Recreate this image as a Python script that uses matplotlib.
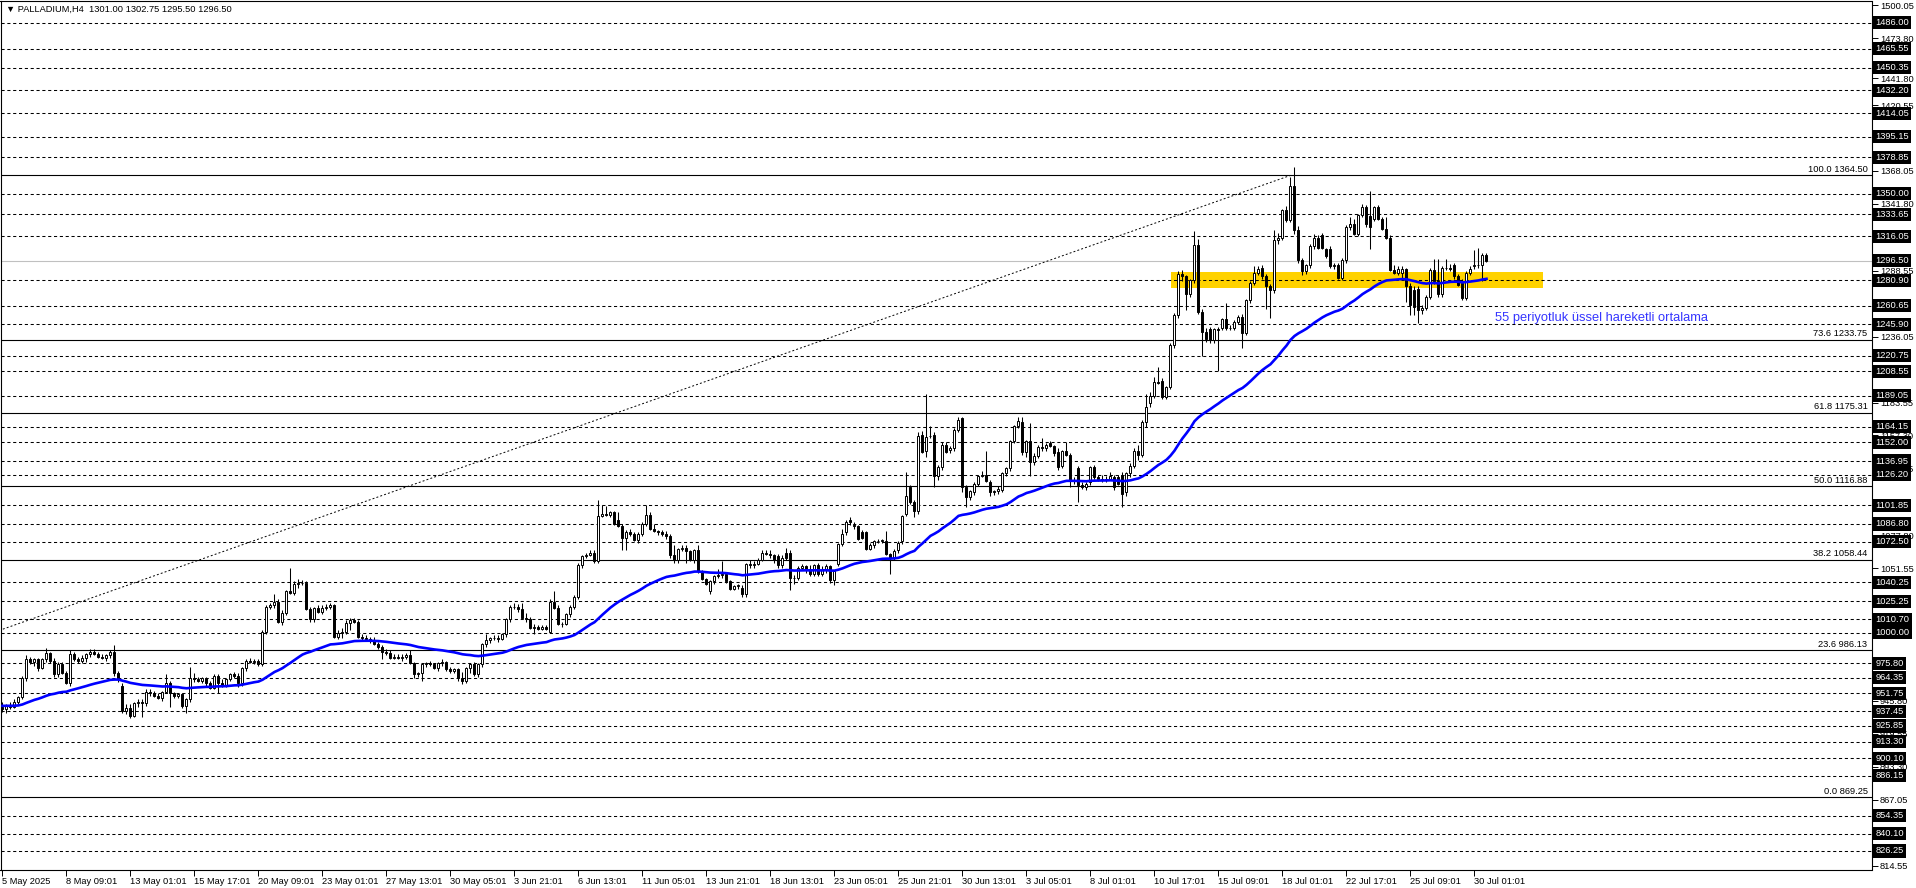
import matplotlib
matplotlib.use("Agg")
import matplotlib.pyplot as plt
import numpy as np

plt.rcParams['font.family'] = ['Liberation Sans', 'DejaVu Sans']

# ---- data (PALLADIUM H4) ----
opens = [
    941, 939, 942, 941, 945, 949, 964, 979, 977, 979, 972, 979, 984, 978, 967, 975,
    968, 960, 983, 979, 978, 980, 983, 985, 983, 981, 980, 982, 985, 968, 958, 938,
    940, 934, 944, 945, 944, 953, 952, 950, 948, 953, 960, 952, 950, 951, 942, 947,
    964, 963, 962, 964, 960, 956, 966, 960, 958, 963, 967, 966, 960, 972, 978, 977,
    978, 975, 1001, 1021, 1022, 1025, 1009, 1016, 1033, 1032, 1039, 1040, 1040, 1019, 1011, 1020,
    1017, 1020, 1021, 1022, 997, 1000, 1001, 1008, 1010, 1009, 997, 996, 995, 994, 991, 989,
    985, 984, 980, 981, 980, 981, 982, 976, 967, 968, 975, 976, 975, 972, 976, 977,
    971, 970, 971, 964, 962, 972, 975, 967, 975, 991, 994, 996, 996, 995, 999, 1011,
    1021, 1021, 1019, 1012, 1011, 1004, 1005, 1003, 1005, 1001, 1025, 1020, 1007, 1007, 1015, 1021,
    1029, 1054, 1061, 1062, 1064, 1057, 1093, 1095, 1094, 1096, 1090, 1085, 1076, 1080, 1079, 1074,
    1079, 1087, 1094, 1083, 1081, 1080, 1079, 1077, 1062, 1058, 1067, 1068, 1065, 1058, 1066, 1049,
    1043, 1033, 1041, 1045, 1046, 1047, 1041, 1035, 1037, 1036, 1031, 1055, 1054, 1055, 1058, 1064,
    1063, 1062, 1061, 1054, 1064, 1064, 1044, 1044, 1052, 1053, 1051, 1047, 1054, 1047, 1050, 1053,
    1042, 1055, 1071, 1080, 1090, 1086, 1085, 1080, 1080, 1067, 1070, 1073, 1073, 1073, 1063, 1060,
    1066, 1073, 1095, 1116, 1104, 1097, 1158, 1145, 1157, 1158, 1125, 1132, 1150, 1146, 1147, 1162,
    1171, 1116, 1108, 1112, 1119, 1125, 1126, 1120, 1112, 1113, 1114, 1127, 1131, 1153, 1165, 1168,
    1144, 1153, 1136, 1141, 1148, 1147, 1151, 1149, 1144, 1133, 1145, 1142, 1122, 1131, 1118, 1116,
    1120, 1132, 1124, 1123, 1122, 1123, 1124, 1124, 1126, 1112, 1127, 1133, 1145, 1142, 1168, 1183,
    1189, 1200, 1201, 1188, 1196, 1229, 1253, 1286, 1284, 1270, 1281, 1309, 1256, 1240, 1242, 1233,
    1242, 1243, 1250, 1243, 1243, 1248, 1252, 1239, 1265, 1279, 1287, 1291, 1284, 1276, 1273, 1313,
    1315, 1337, 1329, 1356, 1321, 1297, 1288, 1293, 1308, 1315, 1317, 1306, 1306, 1292, 1293, 1283,
    1297, 1323, 1326, 1318, 1333, 1339, 1332, 1330, 1339, 1330, 1322, 1315, 1289, 1287, 1287, 1290,
    1276, 1273, 1274, 1257, 1259, 1268, 1289, 1280, 1270, 1291, 1291, 1293, 1284, 1279, 1267, 1287,
    1292, 1293, 1293, 1301.00,
]
highs = [
    945, 943, 945, 947, 950, 966, 982, 981, 980, 980, 980, 988, 985, 980, 977, 977,
    970, 986, 985, 981, 982, 984, 987, 987, 985, 983, 983, 986, 990, 970, 960, 943,
    943, 945, 947, 947, 955, 955, 954, 952, 954, 967, 962, 953, 952, 952, 948, 973,
    968, 965, 965, 965, 962, 967, 967, 963, 964, 968, 969, 968, 973, 979, 980, 979,
    979, 1002, 1022, 1024, 1031, 1027, 1018, 1034, 1052, 1041, 1043, 1042, 1041, 1021, 1021, 1022,
    1022, 1023, 1024, 1023, 1002, 1004, 1010, 1012, 1012, 1010, 999, 998, 997, 997, 993, 990,
    987, 986, 983, 983, 983, 984, 986, 977, 969, 976, 977, 978, 976, 977, 979, 978,
    973, 972, 972, 969, 973, 976, 977, 976, 992, 999, 997, 998, 998, 1000, 1012, 1022,
    1024, 1023, 1024, 1016, 1013, 1007, 1006, 1006, 1006, 1027, 1033, 1022, 1009, 1016, 1022, 1030,
    1056, 1062, 1064, 1066, 1066, 1106, 1102, 1101, 1097, 1097, 1096, 1087, 1082, 1083, 1080, 1080,
    1088, 1102, 1096, 1087, 1082, 1082, 1081, 1079, 1070, 1068, 1070, 1070, 1066, 1067, 1070, 1050,
    1044, 1042, 1046, 1051, 1057, 1048, 1042, 1038, 1039, 1038, 1056, 1058, 1057, 1060, 1066, 1066,
    1066, 1063, 1063, 1062, 1068, 1066, 1046, 1053, 1055, 1054, 1054, 1055, 1056, 1053, 1055, 1054,
    1050, 1072, 1083, 1090, 1092, 1088, 1086, 1082, 1081, 1072, 1074, 1075, 1075, 1081, 1064, 1067,
    1073, 1094, 1128, 1118, 1106, 1160, 1161, 1190, 1165, 1160, 1134, 1152, 1152, 1149, 1163, 1172,
    1172, 1118, 1114, 1120, 1126, 1129, 1145, 1122, 1114, 1117, 1128, 1132, 1154, 1166, 1172, 1172,
    1154, 1167, 1143, 1150, 1155, 1151, 1153, 1150, 1147, 1146, 1152, 1143, 1124, 1133, 1120, 1120,
    1133, 1134, 1126, 1126, 1125, 1128, 1126, 1126, 1128, 1128, 1135, 1147, 1150, 1170, 1190, 1192,
    1204, 1212, 1203, 1197, 1231, 1255, 1288, 1289, 1285, 1282, 1320, 1314, 1258, 1243, 1244, 1243,
    1244, 1251, 1263, 1245, 1249, 1253, 1254, 1266, 1280, 1292, 1292, 1293, 1286, 1278, 1321, 1319,
    1338, 1340, 1363, 1371, 1324, 1299, 1294, 1310, 1318, 1317, 1319, 1307, 1308, 1295, 1295, 1299,
    1325, 1331, 1330, 1334, 1342, 1341, 1352, 1340, 1341, 1331, 1331, 1317, 1293, 1292, 1292, 1291,
    1279, 1276, 1276, 1261, 1269, 1291, 1298, 1298, 1292, 1298, 1294, 1295, 1286, 1282, 1288, 1292,
    1305, 1307, 1303, 1302.75,
]
lows = [
    937, 936, 939, 940, 943, 947, 962, 975, 974, 970, 971, 977, 976, 965, 965, 967,
    959, 958, 978, 976, 976, 977, 981, 982, 980, 979, 978, 980, 966, 961, 936, 935,
    932, 933, 941, 933, 942, 950, 949, 947, 946, 952, 941, 948, 948, 940, 936, 945,
    961, 961, 960, 958, 955, 955, 952, 957, 957, 962, 964, 957, 958, 970, 976, 975,
    974, 974, 999, 1019, 1020, 1008, 1006, 1014, 1031, 1030, 1036, 1038, 1018, 1009, 1009, 1016,
    1015, 1018, 1019, 996, 995, 996, 999, 1002, 1008, 996, 994, 994, 992, 990, 987, 979,
    982, 979, 979, 979, 978, 979, 975, 964, 965, 962, 973, 974, 971, 970, 974, 970,
    968, 968, 962, 959, 960, 968, 966, 965, 973, 989, 992, 994, 993, 994, 997, 1009,
    1019, 1017, 1011, 1009, 1003, 999, 1002, 1002, 1002, 1000, 1019, 1006, 1005, 1006, 1013, 1019,
    1027, 1052, 1060, 1061, 1056, 1056, 1092, 1093, 1092, 1086, 1084, 1066, 1066, 1077, 1073, 1072,
    1077, 1085, 1082, 1080, 1078, 1077, 1075, 1060, 1056, 1056, 1065, 1056, 1057, 1056, 1048, 1042,
    1038, 1031, 1039, 1044, 1044, 1040, 1034, 1034, 1035, 1029, 1029, 1052, 1052, 1054, 1057, 1062,
    1060, 1056, 1052, 1052, 1058, 1034, 1039, 1042, 1050, 1048, 1045, 1045, 1045, 1045, 1048, 1040,
    1038, 1053, 1069, 1078, 1086, 1083, 1074, 1075, 1066, 1066, 1068, 1072, 1072, 1062, 1047, 1058,
    1064, 1071, 1093, 1103, 1092, 1095, 1143, 1140, 1155, 1116, 1122, 1130, 1143, 1143, 1145, 1160,
    1112, 1100, 1106, 1110, 1117, 1124, 1120, 1109, 1110, 1111, 1112, 1125, 1129, 1151, 1163, 1142,
    1140, 1125, 1134, 1139, 1145, 1145, 1148, 1141, 1130, 1131, 1141, 1116, 1119, 1104, 1115, 1114,
    1118, 1123, 1121, 1120, 1120, 1122, 1114, 1118, 1100, 1109, 1124, 1131, 1138, 1140, 1164, 1180,
    1187, 1198, 1186, 1186, 1194, 1227, 1251, 1280, 1257, 1268, 1279, 1254, 1221, 1232, 1231, 1231,
    1209, 1241, 1241, 1241, 1241, 1246, 1227, 1237, 1263, 1277, 1285, 1282, 1258, 1251, 1271, 1310,
    1313, 1327, 1327, 1318, 1295, 1285, 1286, 1291, 1306, 1306, 1306, 1299, 1291, 1290, 1282, 1281,
    1295, 1321, 1317, 1316, 1331, 1323, 1306, 1328, 1329, 1321, 1314, 1288, 1286, 1285, 1283, 1264,
    1253, 1253, 1247, 1254, 1257, 1266, 1278, 1268, 1268, 1289, 1288, 1282, 1276, 1265, 1265, 1285,
    1290, 1291, 1280, 1295.50,
]
closes = [
    939, 942, 941, 945, 949, 964, 979, 977, 979, 972, 979, 984, 978, 967, 975, 968,
    960, 983, 979, 978, 980, 983, 985, 983, 981, 980, 982, 985, 968, 963, 938, 940,
    934, 944, 945, 944, 953, 952, 950, 948, 953, 960, 952, 950, 951, 942, 947, 964,
    963, 962, 964, 960, 956, 966, 960, 958, 963, 967, 966, 960, 972, 978, 977, 978,
    975, 1001, 1021, 1022, 1025, 1009, 1016, 1033, 1032, 1039, 1040, 1040, 1019, 1011, 1020, 1017,
    1020, 1021, 1022, 997, 1000, 1001, 1008, 1010, 1009, 997, 996, 995, 994, 991, 989, 985,
    984, 980, 981, 980, 981, 982, 976, 967, 968, 975, 976, 975, 972, 976, 977, 971,
    970, 971, 964, 962, 972, 975, 967, 975, 991, 994, 996, 996, 995, 999, 1011, 1021,
    1021, 1019, 1012, 1011, 1004, 1005, 1003, 1005, 1003, 1025, 1020, 1007, 1007, 1015, 1021, 1029,
    1054, 1061, 1062, 1064, 1057, 1093, 1095, 1094, 1096, 1087, 1085, 1076, 1080, 1079, 1074, 1079,
    1087, 1094, 1083, 1081, 1080, 1079, 1077, 1062, 1058, 1067, 1068, 1065, 1058, 1066, 1049, 1043,
    1039, 1041, 1045, 1046, 1047, 1041, 1035, 1037, 1038, 1031, 1055, 1054, 1055, 1058, 1064, 1063,
    1062, 1058, 1054, 1060, 1060, 1044, 1044, 1052, 1053, 1050, 1047, 1054, 1047, 1050, 1053, 1042,
    1049, 1071, 1079, 1088, 1088, 1085, 1075, 1076, 1067, 1070, 1073, 1073, 1074, 1063, 1060, 1065,
    1072, 1093, 1109, 1104, 1097, 1157, 1144, 1156, 1157, 1125, 1132, 1150, 1144, 1147, 1162, 1170,
    1116, 1108, 1113, 1119, 1125, 1126, 1121, 1112, 1113, 1115, 1127, 1131, 1153, 1165, 1169, 1144,
    1153, 1136, 1141, 1148, 1147, 1150, 1149, 1143, 1132, 1145, 1142, 1122, 1121, 1118, 1116, 1119,
    1132, 1124, 1123, 1122, 1123, 1125, 1116, 1119, 1111, 1127, 1133, 1145, 1142, 1168, 1180, 1189,
    1200, 1199, 1188, 1196, 1229, 1253, 1286, 1284, 1270, 1281, 1309, 1256, 1240, 1234, 1233, 1242,
    1241, 1250, 1243, 1243, 1248, 1252, 1239, 1265, 1279, 1287, 1290, 1284, 1276, 1273, 1313, 1315,
    1337, 1329, 1356, 1321, 1297, 1288, 1293, 1308, 1315, 1307, 1307, 1300, 1292, 1293, 1283, 1297,
    1323, 1326, 1318, 1333, 1339, 1326, 1323, 1339, 1330, 1322, 1315, 1289, 1287, 1290, 1290, 1276,
    1261, 1260, 1257, 1259, 1268, 1289, 1280, 1270, 1291, 1291, 1290, 1284, 1277, 1267, 1287, 1290,
    1293, 1293, 1301, 1296.50,
]

date_labels = ["5 May 2025", "8 May 09:01", "13 May 01:01", "15 May 17:01", "20 May 09:01",
               "23 May 01:01", "27 May 13:01", "30 May 05:01", "3 Jun 21:01", "6 Jun 13:01",
               "11 Jun 05:01", "13 Jun 21:01", "18 Jun 13:01", "23 Jun 05:01", "25 Jun 21:01",
               "30 Jun 13:01", "3 Jul 05:01", "8 Jul 01:01", "10 Jul 17:01", "15 Jul 09:01",
               "18 Jul 01:01", "22 Jul 17:01", "25 Jul 09:01", "30 Jul 01:01"]
bars_per_label = 16

# regular scale labels that still show beside the boxed ones
price_ticks = [1500.05, 1473.80, 1441.80, 1420.55, 1368.05, 1341.80, 1288.55, 1236.05,
               1183.55, 1157.30, 1131.05, 1077.80, 1051.55, 945.80, 919.55, 893.30,
               867.05, 814.55]

# horizontal dashed levels (with black price labels)
levels = [1486.00, 1465.55, 1450.35, 1432.20, 1414.05, 1395.15, 1378.85, 1350.00, 1333.65,
          1316.05, 1280.90, 1260.65, 1245.90, 1220.75, 1208.55, 1189.05, 1164.15, 1152.00,
          1136.95, 1126.20, 1101.85, 1086.80, 1072.50, 1040.25, 1025.25, 1010.70, 1000.00,
          975.80, 964.35, 951.75, 937.45, 925.85, 913.30, 900.10, 886.15, 854.35, 840.10, 826.25]
last_price = 1296.50

fib_low, fib_high = 869.25, 1364.50
fib_low_bar, fib_high_bar = -119, 322
fib_ratios = [0.0, 23.6, 38.2, 50.0, 61.8, 73.6, 100.0]

zone_bars = (292.25, 385.25)
zone_prices = (1274.7, 1287.5)
ema_period = 55
ema_seed = 942.0
note_text = "55 periyotluk üssel hareketli ortalama"
note_pos = (373.2, 1250.5)

title = "\u25bc PALLADIUM,H4  1301.00 1302.75 1295.50 1296.50"

# ---- figure ----
W, H = 1916, 888
fig = plt.figure(figsize=(W / 100, H / 100), dpi=100)
ax = fig.add_axes([0.5 / W, 18 / H, 1871 / W, 869 / H])

n = min(len(opens), len(highs), len(lows), len(closes))
o = np.array(opens[:n], float)
h = np.array(highs[:n], float)
l = np.array(lows[:n], float)
c = np.array(closes[:n], float)
x = np.arange(n)

ax.set_xlim(-0.5, 467.25)
ax.set_ylim(811.1, 1503.45)

fs = 6.7
dash = (0, (3, 2.6))

# yellow zone
ax.fill_between(zone_bars, zone_prices[0], zone_prices[1], color="#ffd200", lw=0, zorder=1)

for lv in levels:
    ax.axhline(lv, color="black", lw=0.75, linestyle=dash, zorder=2)
ax.axhline(last_price, color="#c0c0c0", lw=0.8, zorder=2)

# fibonacci levels
for r in fib_ratios:
    lv = fib_low + (fib_high - fib_low) * r / 100
    ax.axhline(lv, color="black", lw=0.8, zorder=2)
    ax.annotate("%.1f %.2f" % (r, lv), xy=(1.0, lv), xycoords=("axes fraction", "data"),
                xytext=(-4, 1.5), textcoords="offset pixels", fontsize=fs,
                ha="right", va="bottom", zorder=6)

ax.plot([fib_low_bar, fib_high_bar], [fib_low, fib_high], color="black", lw=0.7,
        linestyle=(0, (2, 2.2)), zorder=2)

# candles
up = c >= o
lo_b = np.minimum(o, c)
ht = np.abs(c - o)
ax.vlines(x, l, h, color="black", lw=0.75, zorder=3)
ax.bar(x[up], ht[up], bottom=lo_b[up], width=0.5, color="white", edgecolor="black",
       linewidth=0.7, zorder=4)
ax.bar(x[~up], ht[~up], bottom=lo_b[~up], width=0.5, color="black", edgecolor="black",
       linewidth=0.7, zorder=4)

# 55 EMA
k = 2.0 / (ema_period + 1)
ema = []
e = ema_seed
for v in c:
    e = e + k * (v - e)
    ema.append(e)
ax.plot(x, ema, color="#0000ff", lw=1.9, zorder=5)

ax.text(note_pos[0], note_pos[1], note_text, color="#3535ff", fontsize=9.3,
        ha="left", va="center", zorder=6)

# axes styling
for s in ax.spines.values():
    s.set_color("black")
    s.set_linewidth(0.8)

ax.yaxis.tick_right()
ax.set_yticks(price_ticks + levels + [last_price])
ax.set_yticklabels(["%.2f" % v for v in price_ticks] + [""] * (len(levels) + 1))
ax.tick_params(axis="y", direction="out", length=4, width=0.7, pad=2, labelsize=fs,
               colors="black")

for lv in levels + [last_price]:
    ax.text(1.0 + 4 / 1871, lv, "%.2f" % lv, transform=ax.get_yaxis_transform(),
            color="white", fontsize=fs, ha="left", va="center", clip_on=False, zorder=10,
            bbox=dict(boxstyle="square,pad=0.22", fc="black", ec="none"))

ax.set_xticks(np.arange(len(date_labels)) * bars_per_label)
ax.set_xticklabels(date_labels, ha="left")
ax.tick_params(axis="x", direction="out", length=4, width=0.7, pad=1, labelsize=fs,
               colors="black")

fig.text(6 / W, 1 - 9 / H, title, fontsize=fs, ha="left", va="center", color="black")

fig.savefig("out.png", dpi=100, facecolor="white")
